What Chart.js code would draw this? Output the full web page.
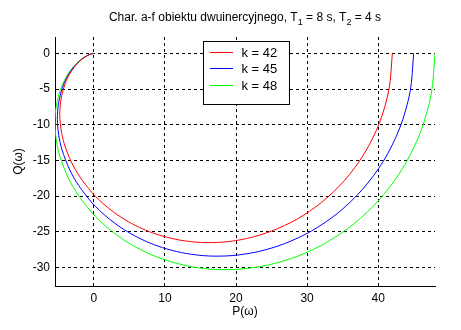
<!DOCTYPE html>
<html>
<head>
<meta charset="utf-8">
<script src="https://cdn.jsdelivr.net/npm/chart.js@4/dist/chart.umd.min.js"></script>
<style>
  html, body { margin: 0; padding: 0; background: #fff; }
  canvas { display: block; }
</style>
</head>
<body>
<canvas id="chart" width="461" height="330"></canvas>
<script>
// Nyquist (amplitude-phase) curves of a second-order inertial plant for three gains
const P42 = [42, 41.53, 40.17, 38.02, 35.25, 32.03, 28.56, 25.00, 21.49, 18.14, 15.01, 12.15, 9.58, 7.29, 5.29, 3.54, 2.04, 0.76, -0.33, -2.01, -3.17, -4.20, -4.62, -4.79, -4.80, -4.69, -4.32, -3.89, -3.46, -2.72, -1.73, -1.18, -0.56, -0.14, 0];
const Q42 = [0, -5.00, -9.77, -14.09, -17.83, -20.89, -23.24, -24.90, -25.95, -26.45, -26.49, -26.18, -25.58, -24.78, -23.83, -22.78, -21.68, -20.56, -19.44, -17.26, -15.25, -12.60, -10.74, -9.17, -8.09, -6.74, -5.04, -3.83, -2.96, -1.86, -0.85, -0.46, -0.14, -0.02, 0];

const P45 = [45, 44.50, 43.04, 40.74, 37.76, 34.32, 30.60, 26.79, 23.03, 19.44, 16.08, 13.02, 10.26, 7.81, 5.67, 3.80, 2.19, 0.81, -0.36, -2.16, -3.40, -4.50, -4.95, -5.13, -5.14, -5.02, -4.63, -4.17, -3.71, -2.91, -1.86, -1.26, -0.60, -0.15, 0];
const Q45 = [0, -5.36, -10.46, -15.10, -19.10, -22.38, -24.90, -26.68, -27.80, -28.34, -28.39, -28.05, -27.41, -26.55, -25.53, -24.41, -23.23, -22.03, -20.83, -18.50, -16.34, -13.50, -11.51, -9.82, -8.67, -7.22, -5.40, -4.11, -3.18, -1.99, -0.92, -0.49, -0.15, -0.02, 0];

const P48 = [48, 47.47, 45.91, 43.45, 40.28, 36.60, 32.64, 28.57, 24.56, 20.73, 17.16, 13.89, 10.95, 8.33, 6.04, 4.05, 2.33, 0.87, -0.38, -2.30, -3.62, -4.80, -5.28, -5.47, -5.48, -5.36, -4.94, -4.44, -3.95, -3.11, -1.98, -1.35, -0.64, -0.16, 0];
const Q48 = [0, -5.71, -11.16, -16.11, -20.38, -23.87, -26.56, -28.46, -29.65, -30.22, -30.28, -29.92, -29.23, -28.32, -27.23, -26.04, -24.78, -23.50, -22.22, -19.73, -17.43, -14.40, -12.27, -10.48, -9.25, -7.70, -5.76, -4.38, -3.39, -2.13, -0.98, -0.52, -0.16, -0.02, 0];

const SERIES_LABELS = ['k = 42', 'k = 45', 'k = 48'];
const SERIES_COLORS = ['#ff0000', '#0000ff', '#00ff00'];
const X_TICKS = [0, 10, 20, 30, 40];
const Y_TICKS = [0, -5, -10, -15, -20, -25, -30];

const FONT = '"Liberation Sans", Arial, Helvetica, sans-serif';

function toPoints(P, Q) {
  return P.map((p, i) => ({ x: p, y: Q[i] }));
}

const seriesData = [toPoints(P42, Q42), toPoints(P45, Q45), toPoints(P48, Q48)];

// Title with subscripted time constants, plus a boxed legend inside the axes
const annotations = {
  id: 'annotations',
  afterDraw(chart) {
    const ctx = chart.ctx;
    const area = chart.chartArea;

    // title
    const parts = [
      ['Char. a-f obiektu dwuinercyjnego, T', false],
      ['1', true],
      [' = 8 s, T', false],
      ['2', true],
      [' = 4 s', false]
    ];
    const mainFont = '12px ' + FONT;
    const subFont = '9px ' + FONT;
    ctx.save();
    ctx.fillStyle = '#000';
    ctx.textBaseline = 'alphabetic';
    ctx.textAlign = 'left';
    let total = 0;
    parts.forEach(([t, sub]) => { ctx.font = sub ? subFont : mainFont; total += ctx.measureText(t).width; });
    let x = (area.left + area.right) / 2 - total / 2;
    const base = 21;
    parts.forEach(([t, sub]) => {
      ctx.font = sub ? subFont : mainFont;
      ctx.fillText(t, x, sub ? base + 4 : base);
      x += ctx.measureText(t).width;
    });
    ctx.restore();

    // legend
    const box = { left: 203.5, top: 41.5, right: 289.5, bottom: 104.5 };
    ctx.save();
    ctx.fillStyle = '#fff';
    ctx.fillRect(box.left, box.top, box.right - box.left, box.bottom - box.top);
    ctx.strokeStyle = '#000';
    ctx.lineWidth = 1;
    ctx.strokeRect(box.left, box.top, box.right - box.left, box.bottom - box.top);
    ctx.font = '13px ' + FONT;
    ctx.textBaseline = 'middle';
    ctx.textAlign = 'left';
    chart.data.datasets.forEach((ds, i) => {
      const y = Math.round(51.5 + i * 16.7) + 0.5;
      ctx.strokeStyle = ds.borderColor;
      ctx.beginPath();
      ctx.moveTo(210, y);
      ctx.lineTo(233, y);
      ctx.stroke();
      ctx.fillStyle = '#000';
      ctx.fillText(ds.label, 241.5, y + 0.5);
    });
    ctx.restore();
  }
};

new Chart(document.getElementById('chart'), {
  type: 'scatter',
  data: {
    datasets: seriesData.map((pts, i) => ({
      label: SERIES_LABELS[i],
      data: pts,
      showLine: true,
      borderColor: SERIES_COLORS[i],
      backgroundColor: SERIES_COLORS[i],
      borderWidth: 1,
      pointRadius: 0,
      pointHoverRadius: 0,
      tension: 0.3,
      fill: false
    }))
  },
  options: {
    responsive: false,
    animation: false,
    devicePixelRatio: 1,
    layout: { padding: { left: 0, top: 37, right: 26, bottom: 0 } },
    plugins: {
      legend: { display: false },
      title: { display: false },
      tooltip: { enabled: false }
    },
    scales: {
      x: {
        type: 'linear',
        min: -5.48,
        max: 48,
        afterBuildTicks: s => { s.ticks = X_TICKS.map(v => ({ value: v })); },
        afterFit: s => { s.height = 44; },
        grid: { color: '#000', lineWidth: 1, drawTicks: false },
        border: { display: true, color: '#000', width: 1, dash: [3, 3] },
        ticks: { color: '#000', padding: 5, font: { family: FONT, size: 12 } },
        title: { display: true, text: 'P(ω)', color: '#000', font: { family: FONT, size: 12 }, padding: { top: 0, bottom: 11 } }
      },
      y: {
        type: 'linear',
        min: -32.6,
        max: 2.3,
        afterBuildTicks: s => { s.ticks = Y_TICKS.map(v => ({ value: v })); },
        afterFit: s => { s.width = 55; },
        grid: { color: '#000', lineWidth: 1, drawTicks: false },
        border: { display: true, color: '#000', width: 1, dash: [3, 3] },
        ticks: { color: '#000', padding: 5, font: { family: FONT, size: 12 } },
        title: { display: true, text: 'Q(ω)', color: '#000', font: { family: FONT, size: 12 }, padding: { top: 11, bottom: 0 } }
      }
    }
  },
  plugins: [annotations]
});
</script>
</body>
</html>
